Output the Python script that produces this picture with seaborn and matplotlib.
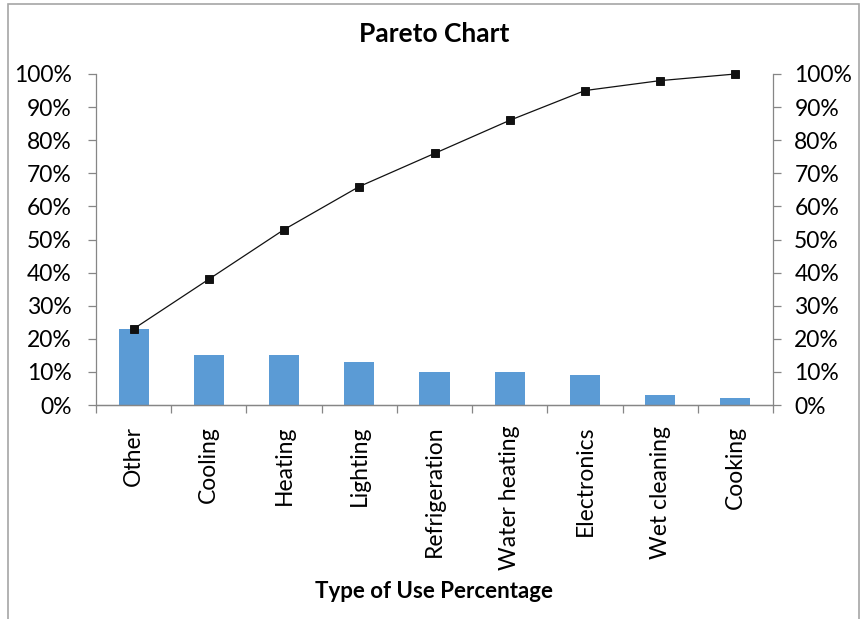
import matplotlib
matplotlib.use("Agg")
import matplotlib.pyplot as plt
from matplotlib.patches import Rectangle
from matplotlib.ticker import FixedLocator, PercentFormatter
import numpy as np
import pandas as pd
import seaborn as sns

# Energy end-use shares (percent) and their running total
categories = ["Other", "Cooling", "Heating", "Lighting", "Refrigeration",
              "Water heating", "Electronics", "Wet cleaning", "Cooking"]
shares = [23, 15, 15, 13, 10, 10, 9, 3, 2]
cumulative = [23, 38, 53, 66, 76, 86, 95, 98, 100]
y_ticks = [0, 10, 20, 30, 40, 50, 60, 70, 80, 90, 100]

sns.set_theme(style="white")
plt.rcParams["font.family"] = ["Lato", "DejaVu Sans"]
plt.rcParams["text.color"] = "black"

df = pd.DataFrame({"use": categories, "share": shares, "cum": cumulative})

fig = plt.figure(figsize=(8.6, 6.19), dpi=100)
ax = fig.add_axes([96 / 860, 1 - 405 / 619, (773 - 96) / 860, (405 - 74) / 619])

bar_color = "#5B9BD5"
spine_color = "#868686"
label_size = 16.5

sns.barplot(data=df, x="use", y="share", ax=ax, color=bar_color,
            width=0.4, saturation=1, edgecolor="none")

ax2 = ax.twinx()
sns.pointplot(data=df, x="use", y="cum", ax=ax2, color="#111111",
              markers="s", markersize=5.5, linewidth=0.9)
for artist in ax2.lines + ax2.collections:
    artist.set_clip_on(False)

for a in (ax, ax2):
    a.set_ylim(0, 100)
    a.set_xlim(-0.5, len(categories) - 0.5)
    a.yaxis.set_major_locator(FixedLocator(y_ticks))
    a.yaxis.set_major_formatter(PercentFormatter(decimals=0))
    a.set_ylabel("")
    a.set_xlabel("")
    for s in a.spines.values():
        s.set_color(spine_color)
        s.set_linewidth(0.9)
    a.spines["top"].set_visible(False)
    a.tick_params(axis="y", length=5.8, width=0.9, color=spine_color,
                  labelsize=label_size, labelcolor="black", pad=11.5)

ax.spines["right"].set_visible(False)
ax2.spines["left"].set_visible(False)
ax.tick_params(axis="y", left=True, direction="out")
ax2.tick_params(axis="y", right=True, direction="out", pad=9.5)

# category boundaries carry the tick marks; the names sit between them
ax.set_xticks(np.arange(len(categories)))
ax.set_xticklabels(categories, rotation=90, fontsize=label_size, color="black")
ax.set_xticks(np.arange(-0.5, len(categories)), minor=True)
ax.tick_params(axis="x", which="major", length=0, pad=15)
ax.tick_params(axis="x", which="minor", length=5.8, width=0.9,
               color=spine_color, bottom=True)
ax2.tick_params(axis="x", length=0)

fig.text(434 / 860, 1 - 34 / 619, "Pareto Chart", ha="center", va="center",
         fontsize=19, fontweight="bold", color="black")
fig.text(434 / 860, 1 - 592 / 619, "Type of Use Percentage", ha="center",
         va="center", fontsize=16, fontweight="bold", color="black")

fig.patches.append(Rectangle((8 / 860, -0.05), (859 - 8) / 860, 1.05 - 4 / 619,
                             transform=fig.transFigure, fill=False,
                             edgecolor="#a6a6a6", linewidth=1.2))

fig.savefig("out.png", dpi=100)
